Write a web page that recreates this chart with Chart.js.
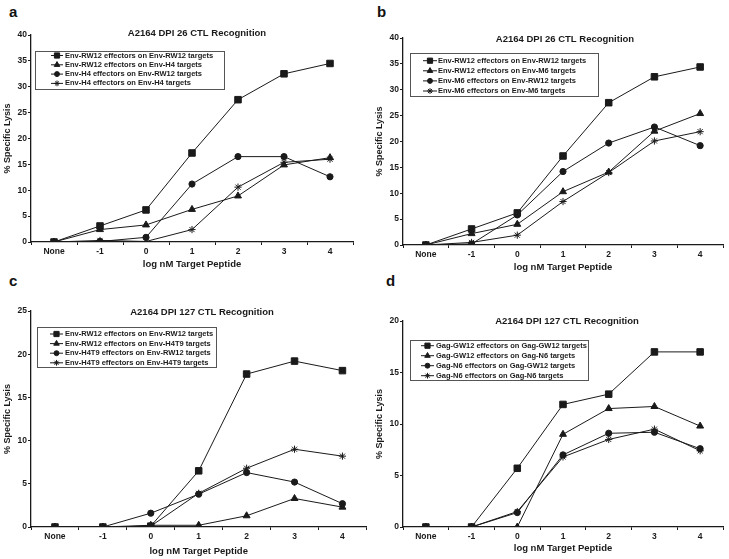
<!DOCTYPE html>
<html>
<head>
<meta charset="utf-8">
<script src="https://cdn.jsdelivr.net/npm/chart.js@4.4.1/dist/chart.umd.min.js"></script>
<style>
  body { margin: 0; background: #fff; width: 729px; height: 559px; position: relative; overflow: hidden; }
  canvas { position: absolute; }
  .lbl { position: absolute; font: bold 15px "Liberation Sans", Arial, sans-serif; color: #111; }
</style>
</head>
<body>
<div class="lbl" style="left:9px;top:3px">a</div>
<div class="lbl" style="left:377px;top:3px">b</div>
<div class="lbl" style="left:9px;top:272px">c</div>
<div class="lbl" style="left:386px;top:272px">d</div>
<canvas id="chartA" width="365" height="280" style="left:0;top:0"></canvas>
<canvas id="chartB" width="364" height="280" style="left:365px;top:0"></canvas>
<canvas id="chartC" width="372" height="279" style="left:0;top:280px"></canvas>
<canvas id="chartD" width="364" height="279" style="left:365px;top:280px"></canvas>
<script>
// x categories, shared by all four panels
const doses = ['None', '-1', '0', '1', '2', '3', '4'];

// panel a
const titleA = 'A2164 DPI 26 CTL Recognition';
const namesA = ['Env-RW12 effectors on Env-RW12 targets', 'Env-RW12 effectors on Env-H4 targets',
                'Env-H4 effectors on Env-RW12 targets', 'Env-H4 effectors on Env-H4 targets'];
const a_rw12_rw12 = [0, 3.1, 6.2, 17.2, 27.5, 32.5, 34.5];
const a_rw12_h4   = [0, 2.4, 3.3, 6.3, 8.9, 14.9, 16.3];
const a_h4_rw12   = [0, 0.1, 0.9, 11.2, 16.5, 16.5, 12.6];
const a_h4_h4     = [0, 0.3, 0.1, 2.4, 10.6, 15.4, 16.0];

// panel b
const titleB = 'A2164 DPI 26 CTL Recognition';
const namesB = ['Env-RW12 effectors on Env-RW12 targets', 'Env-RW12 effectors on Env-M6 targets',
                'Env-M6 effectors on Env-RW12 targets', 'Env-M6 effectors on Env-M6 targets'];
const b_rw12_rw12 = [0, 3.1, 6.2, 17.2, 27.5, 32.5, 34.4];
const b_rw12_m6   = [0, 2.2, 4.0, 10.3, 14.1, 22.0, 25.4];
const b_m6_rw12   = [0, 0.2, 5.8, 14.2, 19.7, 22.8, 19.2];
const b_m6_m6     = [0, 0.5, 1.9, 8.4, 14.0, 20.1, 21.9];

// panel c
const titleC = 'A2164 DPI 127 CTL Recognition';
const namesC = ['Env-RW12 effectors on Env-RW12 targets', 'Env-RW12 effectors on Env-H4T9 targets',
                'Env-H4T9 effectors on Env-RW12 targets', 'Env-H4T9 effectors on Env-H4T9 targets'];
const c_rw12_rw12 = [0, 0, 0.1, 6.5, 17.7, 19.2, 18.1];
const c_rw12_h4t9 = [0, 0, 0.2, 0.2, 1.3, 3.3, 2.3];
const c_h4t9_rw12 = [0, 0, 1.6, 3.8, 6.3, 5.2, 2.7];
const c_h4t9_h4t9 = [0, 0, 0.1, 3.9, 6.8, 9.0, 8.2];

// panel d
const titleD = 'A2164 DPI 127 CTL Recognition';
const namesD = ['Gag-GW12 effectors on Gag-GW12 targets', 'Gag-GW12 effectors on Gag-N6 targets',
                'Gag-N6 effectors on Gag-GW12 targets', 'Gag-N6 effectors on Gag-N6 targets'];
const d_gw12_gw12 = [0, 0, 5.7, 11.9, 12.9, 17.0, 17.0];
const d_gw12_n6   = [0, 0, 0, 9.0, 11.5, 11.7, 9.8];
const d_n6_gw12   = [0, 0, 1.4, 7.0, 9.1, 9.2, 7.6];
const d_n6_n6     = [0, 0, 1.5, 6.8, 8.5, 9.5, 7.4];

const FONT = '"Liberation Sans", Arial, sans-serif';
const INK = '#1a1a1a';
const markers = [
  { pointStyle: 'rect', pointRadius: 4.6 },
  { pointStyle: 'triangle', pointRadius: 4 },
  { pointStyle: 'circle', pointRadius: 3.1 },
  { pointStyle: 'star', pointRadius: 3.6 }
];

// boxed legend + title drawn inside the plot, like the original figure
const boxLegend = {
  id: 'boxLegend',
  afterDraw(chart, args, o) {
    const ctx = chart.ctx;
    ctx.save();
    ctx.fillStyle = '#fff';
    ctx.fillRect(o.x, o.y, o.w, o.h);
    ctx.strokeStyle = '#555';
    ctx.lineWidth = 1;
    ctx.strokeRect(o.x + 0.5, o.y + 0.5, o.w, o.h);
    ctx.font = 'bold 7.5px ' + FONT;
    ctx.textBaseline = 'middle';
    chart.data.datasets.forEach((ds, i) => {
      const y = o.row0 + i * o.gap;
      ctx.strokeStyle = INK;
      ctx.fillStyle = INK;
      ctx.lineWidth = 1;
      ctx.beginPath();
      ctx.moveTo(o.line0, y);
      ctx.lineTo(o.line1, y);
      ctx.stroke();
      Chart.helpers.drawPoint(ctx, { pointStyle: ds.pointStyle, radius: ds.pointRadius * 0.8, borderWidth: 1 },
        (o.line0 + o.line1) / 2, y);
      ctx.fillText(ds.label, o.text, y);
    });
    ctx.font = 'bold 9.5px ' + FONT;
    ctx.textAlign = 'center';
    ctx.fillStyle = INK;
    ctx.fillText(o.title, o.tx, o.ty);
    ctx.restore();
  }
};

function makePanel(id, title, names, series, yMax, lay) {
  const datasets = series.map((data, i) => ({
    label: names[i],
    data: data,
    borderColor: INK,
    borderWidth: 1,
    pointBackgroundColor: INK,
    pointBorderColor: INK,
    pointBorderWidth: 1,
    pointStyle: markers[i].pointStyle,
    pointRadius: markers[i].pointRadius,
    tension: 0,
    fill: false
  }));

  return new Chart(document.getElementById(id), {
    type: 'line',
    data: { labels: doses, datasets: datasets },
    plugins: [boxLegend],
    options: {
      responsive: false,
      animation: false,
      layout: { padding: { left: lay.padL, top: lay.padT, right: lay.padR, bottom: 0 } },
      plugins: {
        legend: { display: false },
        tooltip: { enabled: false },
        boxLegend: Object.assign({ title: title }, lay.legend)
      },
      scales: {
        x: {
          type: 'category',
          offset: true,
          grid: { drawOnChartArea: false, drawTicks: true, tickLength: 3, color: INK, offset: true },
          border: { color: INK, width: 1.3 },
          ticks: { color: INK, font: { family: FONT, size: 8.5, weight: 'bold' }, padding: 2, maxRotation: 0, autoSkip: false },
          title: { display: true, text: 'log nM Target Peptide', color: INK,
                   font: { family: FONT, size: 9.5, weight: 'bold' }, padding: { top: 0, bottom: lay.xTitlePad } },
          afterFit(s) { s.height = lay.xH; }
        },
        y: {
          min: 0,
          max: yMax,
          grid: { drawOnChartArea: false, drawTicks: true, tickLength: 3, color: INK },
          border: { color: INK, width: 1.3 },
          ticks: { stepSize: 5, color: INK, font: { family: FONT, size: 8.5, weight: 'bold' }, padding: 1 },
          title: { display: true, text: '% Specific Lysis', color: INK,
                   font: { family: FONT, size: 9, weight: 'bold' }, padding: { top: 2.6, bottom: 0 } },
          afterFit(s) { s.width = 31; }
        }
      }
    }
  });
}

makePanel('chartA', titleA, namesA, [a_rw12_rw12, a_rw12_h4, a_h4_rw12, a_h4_h4], 40, {
  padL: 0, padT: 35, padR: 12, xH: 38, xTitlePad: 10,
  legend: { x: 35, y: 51, w: 189, h: 38, row0: 55.5, gap: 9.3, line0: 51, line1: 63, text: 65, tx: 197, ty: 33 }
});
makePanel('chartB', titleB, namesB, [b_rw12_rw12, b_rw12_m6, b_m6_rw12, b_m6_m6], 40, {
  padL: 7, padT: 38, padR: 6, xH: 35, xTitlePad: 7,
  legend: { x: 45, y: 53, w: 188, h: 43, row0: 60.7, gap: 10.1, line0: 58, line1: 72, text: 73, tx: 200, ty: 39 }
});
makePanel('chartC', titleC, namesC, [c_rw12_rw12, c_rw12_h4t9, c_h4t9_rw12, c_h4t9_h4t9], 25, {
  padL: 0, padT: 31, padR: 4, xH: 32, xTitlePad: 1.5,
  legend: { x: 37, y: 47, w: 179, h: 40, row0: 54, gap: 9.6, line0: 50, line1: 63, text: 65, tx: 202, ty: 32 }
});
makePanel('chartD', titleD, namesD, [d_gw12_gw12, d_gw12_n6, d_n6_gw12, d_n6_n6], 20, {
  padL: 7, padT: 41, padR: 6, xH: 32, xTitlePad: 5,
  legend: { x: 45, y: 60, w: 178, h: 40, row0: 65.7, gap: 10, line0: 56, line1: 69, text: 71, tx: 202, ty: 41 }
});
</script>
</body>
</html>
